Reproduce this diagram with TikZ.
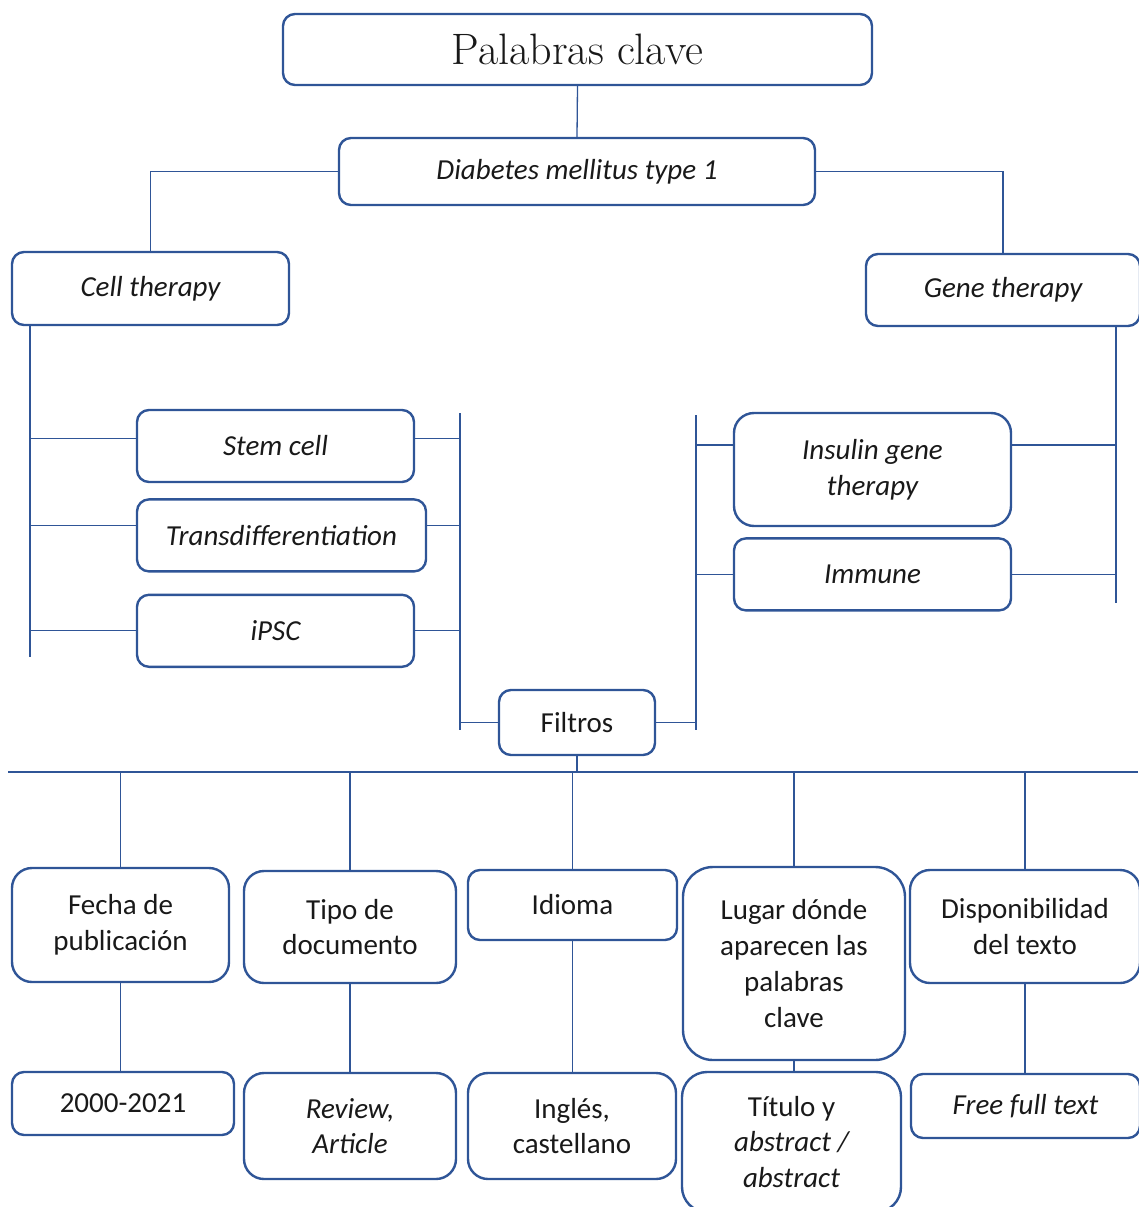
\documentclass[tikz,border=0pt]{standalone}
\usepackage{fontspec}
\newfontfamily\carl{Carlito}
\usetikzlibrary{positioning}
\definecolor{boxblue}{RGB}{47,85,151}

\begin{document}
\begin{tikzpicture}[x=1pt, y=-1pt,
        box/.style={draw=boxblue, line width=2.4pt, rounded corners=12pt, inner sep=0pt, align=center, text=black!90, font=\carl\fontsize{29}{35.7}\selectfont},
        tallbox/.style={box, rounded corners=20pt},
        link/.style={draw=boxblue, line width=1.3pt}]
        \useasboundingbox (0,0) rectangle (1138,1207);
        % keywords
        \node[box, font=\fontsize{44}{50}\selectfont, minimum width=589pt, minimum height=71pt] (title) at (577.5,49.5) {Palabras clave};
        \node[box, minimum width=476pt, minimum height=67pt] (diabetes) at (577,171.5) {\itshape Diabetes mellitus type 1};
        \node[box, minimum width=277pt, minimum height=73pt] (celltherapy) at (150.5,288.5) {\itshape Cell therapy};
        \node[box, minimum width=274pt, minimum height=72pt] (genetherapy) at (1003,290) {\itshape Gene therapy};
        \node[box, minimum width=277pt, minimum height=72pt] (stemcell) at (275.5,446) {\itshape Stem cell};
        \node[box, minimum width=289pt, minimum height=72pt] (transdif) [below=15pt of stemcell.south west, anchor=north west] {\itshape Transdifferentiation};
        \node[box, minimum width=277pt, minimum height=72pt] (ipsc) [below=21pt of transdif.south west, anchor=north west] {\itshape iPSC};
        \node[tallbox, minimum width=277pt, minimum height=113pt] (insulin) at (872.5,469.5) {\itshape Insulin gene\\\itshape therapy};
        \node[box, minimum width=277pt, minimum height=72pt] (immune) [below=10pt of insulin] {\itshape Immune};
        \node[box, minimum width=156pt, minimum height=65pt] (filtros) at (577,722.5) {Filtros};
        % filters
        \node[tallbox, minimum width=217pt, minimum height=114pt] (fecha) at (120.5,925) {Fecha de\\publicación};
        \node[tallbox, minimum width=212pt, minimum height=112pt] (tipo) at (350,927) {Tipo de\\documento};
        \node[box, minimum width=209pt, minimum height=70pt] (idioma) at (572.5,905) {Idioma};
        \node[box, rounded corners=30pt, minimum width=222pt, minimum height=193pt] (lugar) at (794,963.5) {Lugar dónde\\aparecen las\\palabras\\clave};
        \node[tallbox, minimum width=230pt, minimum height=113pt] (dispon) at (1025,926.5) {Disponibilidad\\del texto};
        \node[box, minimum width=222pt, minimum height=63pt] (years) at (123,1103.5) {2000-2021};
        \node[tallbox, minimum width=212pt, minimum height=106pt] (review) at (350,1126) {\itshape Review,\\\itshape Article};
        \node[tallbox, minimum width=208pt, minimum height=106pt] (ingles) at (572,1126) {Inglés,\\castellano};
        \node[box, rounded corners=25pt, minimum width=219pt, minimum height=140pt] (titulo) at (791.5,1142) {Título y\\\itshape abstract /\\\itshape abstract};
        \node[box, minimum width=229pt, minimum height=64pt] (freetext) at (1025.5,1106) {\itshape Free full text};
        % bar ends
        \coordinate (cellbar) at (30,657);
        \coordinate (leftbartop) at (460,413);
        \coordinate (leftbarbot) at (460,730);
        \coordinate (rightbartop) at (696,415);
        \coordinate (rightbarbot) at (696,730);
        \coordinate (genebar) at (1116,603);
        \coordinate (filterleft) at (8,772);
        \coordinate (filterright) at (1138,772);
        % tree
        \draw[link] (title.south) -- (diabetes.north);
        \draw[link] (diabetes.west) -| (celltherapy.north);
        \draw[link] (diabetes.east) -| (genetherapy.north);
        \draw[link] (celltherapy.south -| cellbar) -- (cellbar);
        \draw[link] (leftbartop) -- (leftbarbot);
        \draw[link] (rightbartop) -- (rightbarbot);
        \draw[link] (genetherapy.south -| genebar) -- (genebar);
        \draw[link] (stemcell.177) -- (stemcell.177 -| cellbar);
        \draw[link] (transdif.176) -- (transdif.176 -| cellbar);
        \draw[link] (ipsc.west) -- (ipsc.west -| cellbar);
        \draw[link] (stemcell.3) -- (stemcell.3 -| leftbartop);
        \draw[link] (transdif.4) -- (transdif.4 -| leftbartop);
        \draw[link] (ipsc.east) -- (ipsc.east -| leftbartop);
        \draw[link] (filtros.west) -- (filtros.west -| leftbartop);
        \draw[link] (filtros.east) -- (filtros.east -| rightbartop);
        \draw[link] (insulin.170) -- (insulin.170 -| rightbartop);
        \draw[link] (immune.west) -- (immune.west -| rightbartop);
        \draw[link] (insulin.10) -- (insulin.10 -| genebar);
        \draw[link] (immune.east) -- (immune.east -| genebar);
        % filters
        \draw[link] (filterleft) -- (filterright);
        \draw[link] (filtros.south) -- (filtros.south |- filterleft);
        \foreach \f in {fecha,tipo,idioma,lugar,dispon}
            \draw[link] (\f.north) -- (\f.north |- filterleft);
        \foreach \f/\v in {fecha/years,tipo/review,idioma/ingles,lugar/titulo,dispon/freetext}
            \draw[link] (\f.south) -- (\f.south |- \v.north);
\end{tikzpicture}
\end{document}
